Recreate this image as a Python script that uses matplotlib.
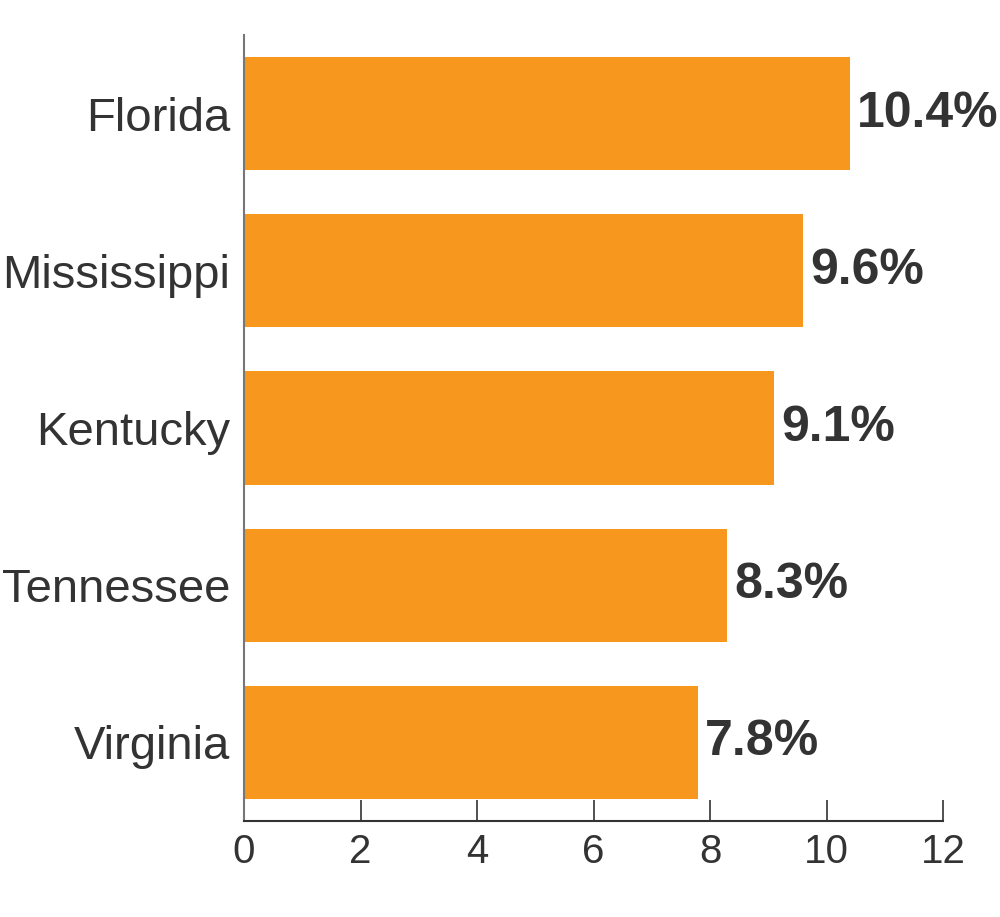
import matplotlib
matplotlib.use("Agg")
import matplotlib.pyplot as plt

# data
states = ["Florida", "Mississippi", "Kentucky", "Tennessee", "Virginia"]
rates = [10.4, 9.6, 9.1, 8.3, 7.8]
x_ticks = [0, 2, 4, 6, 8, 10, 12]

plt.rcParams['font.family'] = ['Liberation Sans', 'DejaVu Sans']

fig = plt.figure(figsize=(10, 9.17), dpi=100)
ax = fig.add_axes([0.244, 0.1047, 0.699, 0.8571])

bar_color = "#F7971E"
text_color = "#333333"

ax.barh(range(len(states)), rates, height=0.72, color=bar_color)

for i, v in enumerate(rates):
    ax.annotate(f"{v}%", xy=(v, i), xytext=(5, 0), textcoords="offset points",
                va="center", ha="left", fontsize=36, fontweight="bold",
                color=text_color)

ax.set_xlim(0, 12)
ax.set_ylim(len(states) - 0.5, -0.5)
ax.set_yticks(range(len(states)))
ax.set_yticklabels(states, fontsize=34, color=text_color)
ax.set_xticks(x_ticks)
ax.set_xticklabels([str(t) for t in x_ticks], fontsize=29, color=text_color)

ax.tick_params(axis="y", length=0, pad=10)
ax.tick_params(axis="x", direction="in", length=15, width=1.2, color="#333333", pad=9)

for s in ["top", "right"]:
    ax.spines[s].set_visible(False)
ax.spines["left"].set_color("#777777")
ax.spines["left"].set_linewidth(1.5)
ax.spines["bottom"].set_color("#333333")
ax.spines["bottom"].set_linewidth(1.5)

fig.savefig("out.png", dpi=100)
